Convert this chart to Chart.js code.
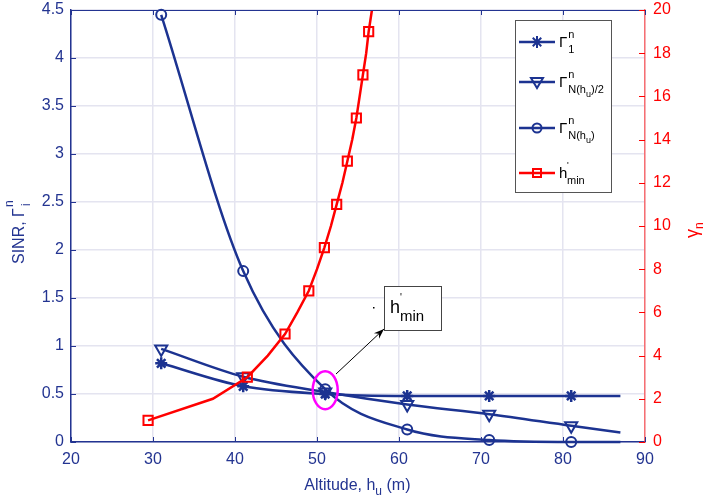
<!DOCTYPE html>
<html>
<head>
<meta charset="utf-8">
<script src="https://cdn.jsdelivr.net/npm/chart.js@4"></script>
<style>
  body { margin: 0; background: #fff; }
  canvas { display: block; }
</style>
</head>
<body>
<canvas id="sinrChart" width="705" height="503"></canvas>
<script>
// altitude (m) where the blue curves are sampled; last one only ends the line
var altitude = [31, 41, 51, 61, 71, 81, 87];
var gamma1 = [0.82, 0.58, 0.50, 0.48, 0.48, 0.48, 0.48];
var gammaHalf = [0.97, 0.68, 0.52, 0.39, 0.29, 0.17, 0.10];
var gammaFull = [4.45, 1.78, 0.55, 0.13, 0.02, 0.00, 0.00];

// h'_min curve, right axis
var hminAlt = [29.4, 37.3, 41.5, 44.0, 46.1, 47.6, 49.0, 50.0, 50.9, 51.7,
               52.4, 53.1, 53.7, 54.3, 54.8, 55.2, 55.6, 56.0, 56.3, 56.7];
var hminGamma = [1, 2, 3, 4, 5, 6, 7, 8, 9, 10, 11, 12, 13, 14, 15, 16, 17, 18, 19, 20];
// markers only on odd gamma values
var hminMarks = [1, 0, 1, 0, 1, 0, 1, 0, 1, 0, 1, 0, 1, 0, 1, 0, 1, 0, 1, 0];

var xTicks = [20, 30, 40, 50, 60, 70, 80, 90];

var navy = '#233491';
var blue = '#1c3391';
var red = '#ff0000';
var font = '"Liberation Sans", Arial, sans-serif';

function pts(xs, ys) {
    return xs.map(function (x, i) { return { x: x, y: ys[i] }; });
}
function blueRadius(r) {
    return altitude.map(function (a, i) { return i < altitude.length - 1 ? r : 0; });
}

// draws text pieces left to right: [text, size, dy, noAdvance]
function rich(ctx, parts, x, y) {
    var cx = x;
    parts.forEach(function (p) {
        ctx.font = p[1] + 'px ' + font;
        ctx.fillText(p[0], cx, y + (p[2] || 0));
        if (!p[3]) cx += ctx.measureText(p[0]).width;
    });
    return cx - x;
}

function marker(ctx, style, x, y, color) {
    ctx.save();
    ctx.strokeStyle = color;
    ctx.lineWidth = 2;
    ctx.beginPath();
    if (style === 'star') {
        var r = 6;
        for (var k = 0; k < 4; k++) {
            var a = k * Math.PI / 4;
            ctx.moveTo(x - r * Math.cos(a), y - r * Math.sin(a));
            ctx.lineTo(x + r * Math.cos(a), y + r * Math.sin(a));
        }
    } else if (style === 'tri') {
        ctx.moveTo(x - 6, y - 4);
        ctx.lineTo(x + 6, y - 4);
        ctx.lineTo(x, y + 6);
        ctx.closePath();
    } else if (style === 'circle') {
        ctx.arc(x, y, 4.5, 0, Math.PI * 2);
    } else {
        ctx.rect(x - 4, y - 4, 8, 8);
    }
    ctx.stroke();
    ctx.restore();
}

function noPad(s) {
    s.paddingTop = 0;
    s.paddingBottom = 0;
}

var extras = {
    id: 'extras',
    afterDatasetsDraw: function (chart) {
        var ctx = chart.ctx;
        var ca = chart.chartArea;
        var sx = chart.scales.x, sy = chart.scales.y, sr = chart.scales.y1;
        ctx.save();

        // top border
        ctx.strokeStyle = navy;
        ctx.lineWidth = 1;
        ctx.beginPath();
        ctx.moveTo(ca.left, ca.top + 0.5);
        ctx.lineTo(ca.right, ca.top + 0.5);
        ctx.stroke();

        // inward ticks
        xTicks.forEach(function (v) {
            var px = Math.round(sx.getPixelForValue(v)) + 0.5;
            ctx.beginPath();
            ctx.moveTo(px, ca.bottom); ctx.lineTo(px, ca.bottom - 5);
            ctx.moveTo(px, ca.top); ctx.lineTo(px, ca.top + 5);
            ctx.stroke();
        });
        sy.ticks.forEach(function (t) {
            var py = Math.round(sy.getPixelForValue(t.value)) + 0.5;
            ctx.beginPath();
            ctx.moveTo(ca.left, py); ctx.lineTo(ca.left + 5, py);
            ctx.stroke();
        });
        ctx.strokeStyle = red;
        sr.ticks.forEach(function (t) {
            var py = Math.round(sr.getPixelForValue(t.value)) + 0.5;
            ctx.beginPath();
            ctx.moveTo(ca.right, py); ctx.lineTo(ca.right - 6, py);
            ctx.stroke();
        });

        // ellipse round the crossing
        ctx.strokeStyle = '#ff00ff';
        ctx.lineWidth = 2.5;
        ctx.beginPath();
        ctx.ellipse(sx.getPixelForValue(51), sy.getPixelForValue(0.54), 12.5, 19, 0, 0, Math.PI * 2);
        ctx.stroke();

        // arrow to the text box
        var x0 = 336, y0 = 374, x1 = 384, y1 = 329;
        ctx.strokeStyle = '#000';
        ctx.fillStyle = '#000';
        ctx.lineWidth = 1;
        ctx.beginPath();
        ctx.moveTo(x0, y0); ctx.lineTo(x1, y1);
        ctx.stroke();
        var ang = Math.atan2(y1 - y0, x1 - x0);
        ctx.beginPath();
        ctx.moveTo(x1, y1);
        ctx.lineTo(x1 - 11 * Math.cos(ang - 0.35), y1 - 11 * Math.sin(ang - 0.35));
        ctx.lineTo(x1 - 7 * Math.cos(ang), y1 - 7 * Math.sin(ang));
        ctx.lineTo(x1 - 11 * Math.cos(ang + 0.35), y1 - 11 * Math.sin(ang + 0.35));
        ctx.closePath();
        ctx.fill();

        // annotation box
        ctx.fillStyle = '#fff';
        ctx.fillRect(384, 286, 57, 44);
        ctx.strokeStyle = '#444';
        ctx.strokeRect(384.5, 286.5, 57, 44);
        ctx.fillStyle = '#000';
        ctx.fillRect(373, 307, 1.5, 1.5);
        ctx.textBaseline = 'alphabetic';
        ctx.textAlign = 'left';
        rich(ctx, [['h', 18, 0]], 390, 313);
        rich(ctx, [["'", 10, -12, true], ['min', 15, 8]], 400, 313);

        // legend
        ctx.fillStyle = '#fff';
        ctx.fillRect(515, 20, 96, 172);
        ctx.strokeStyle = '#555';
        ctx.strokeRect(515.5, 20.5, 96, 172);
        var rows = [
            { y: 42, c: blue, m: 'star', sub: [['1', 11, 0]] },
            { y: 82, c: blue, m: 'tri', sub: [['N(h', 11, 0], ['u', 9, 4], [')/2', 11, 0]] },
            { y: 128, c: blue, m: 'circle', sub: [['N(h', 11, 0], ['u', 9, 4], [')', 11, 0]] },
            { y: 173, c: red, m: 'rect' }
        ];
        rows.forEach(function (r) {
            ctx.strokeStyle = r.c;
            ctx.lineWidth = 2.5;
            ctx.beginPath();
            ctx.moveTo(519, r.y); ctx.lineTo(555, r.y);
            ctx.stroke();
            marker(ctx, r.m, 537, r.y, r.c);
            ctx.fillStyle = '#000';
            if (r.sub) {
                var w = rich(ctx, [['Γ', 15, 0]], 559, r.y + 5);
                rich(ctx, [['n', 11, -9]], 559 + w + 1, r.y + 5);
                rich(ctx, r.sub, 559 + w + 1, r.y + 11);
            } else {
                rich(ctx, [['h', 15, 0]], 559, r.y + 5);
                rich(ctx, [["'", 9, -10, true], ['min', 11, 6]], 567, r.y + 5);
            }
        });

        // axis titles
        ctx.fillStyle = navy;
        ctx.textAlign = 'left';
        ctx.font = '16px ' + font;
        var tw = ctx.measureText('Altitude, h').width + ctx.measureText(' (m)').width + 8;
        var bx = (ca.left + ca.right) / 2 - tw / 2;
        var w1 = rich(ctx, [['Altitude, h', 16, 0]], bx, 490);
        rich(ctx, [['u', 12, 5], [' (m)', 16, 0]], bx + w1, 490);

        ctx.save();
        ctx.translate(24, (ca.top + ca.bottom) / 2 + 38);
        ctx.rotate(-Math.PI / 2);
        var w2 = rich(ctx, [['SINR, Γ', 16, 0]], 0, 0);
        rich(ctx, [['n', 12, -11]], w2 + 1, 0);
        rich(ctx, [['i', 12, 6]], w2 + 2, 0);
        ctx.restore();

        ctx.save();
        ctx.fillStyle = red;
        ctx.translate(698, (ca.top + ca.bottom) / 2 + 12);
        ctx.rotate(-Math.PI / 2);
        var w3 = rich(ctx, [['γ', 18, 0]], 0, 0);
        rich(ctx, [['n', 12, 5]], w3, 0);
        ctx.restore();

        ctx.restore();
    }
};

var ctx = document.getElementById('sinrChart').getContext('2d');
var myChart = new Chart(ctx, {
    type: 'line',
    data: {
        datasets: [{
            label: "h'min",
            data: pts(hminAlt, hminGamma),
            yAxisID: 'y1',
            borderColor: red,
            borderWidth: 2.5,
            backgroundColor: 'rgba(0,0,0,0)',
            pointStyle: 'rect',
            pointRadius: hminMarks.map(function (m) { return m ? 6.5 : 0; }),
            pointBorderWidth: 2,
            tension: 0,
            order: 0
        }, {
            label: 'Gamma 1',
            data: pts(altitude, gamma1),
            yAxisID: 'y',
            borderColor: blue,
            borderWidth: 2.5,
            backgroundColor: 'rgba(0,0,0,0)',
            pointStyle: 'star',
            pointRadius: blueRadius(6),
            pointBorderWidth: 2.5,
            cubicInterpolationMode: 'monotone',
            clip: false,
            order: 1
        }, {
            label: 'Gamma N/2',
            data: pts(altitude, gammaHalf),
            yAxisID: 'y',
            borderColor: blue,
            borderWidth: 2.5,
            backgroundColor: 'rgba(0,0,0,0)',
            pointStyle: 'triangle',
            pointRotation: 180,
            pointRadius: blueRadius(7),
            pointBorderWidth: 2,
            cubicInterpolationMode: 'monotone',
            clip: false,
            order: 2
        }, {
            label: 'Gamma N',
            data: pts(altitude, gammaFull),
            yAxisID: 'y',
            borderColor: blue,
            borderWidth: 2.5,
            backgroundColor: 'rgba(0,0,0,0)',
            pointStyle: 'circle',
            pointRadius: blueRadius(5),
            pointBorderWidth: 2,
            cubicInterpolationMode: 'monotone',
            clip: false,
            order: 3
        }]
    },
    options: {
        responsive: false,
        animation: false,
        layout: { padding: { top: 10, left: 0, right: 0, bottom: 0 } },
        plugins: { legend: { display: false }, tooltip: { enabled: false } },
        scales: {
            x: {
                type: 'linear', min: 20, max: 90,
                afterBuildTicks: function (s) { s.ticks = xTicks.map(function (v) { return { value: v }; }); },
                ticks: { color: navy, font: { family: font, size: 16 }, padding: 8, maxRotation: 0 },
                grid: { color: '#e4e4f0', drawTicks: false, lineWidth: 1.5 },
                border: { color: navy, width: 1.5 },
                afterFit: function (s) { s.height = 61; s.paddingLeft = 0; s.paddingRight = 0; }
            },
            y: {
                position: 'left', min: 0, max: 4.5,
                ticks: { stepSize: 0.5, color: navy, font: { family: font, size: 16 }, padding: 7,
                         callback: function (v) { return String(v); } },
                grid: { color: '#e4e4f0', drawTicks: false, lineWidth: 1.5 },
                border: { color: navy, width: 1.5 },
                afterFit: function (s) { s.width = 71; noPad(s); }
            },
            y1: {
                position: 'right', min: 0, max: 20,
                ticks: { stepSize: 2, color: red, font: { family: font, size: 16 }, padding: 8 },
                grid: { display: false, drawTicks: false },
                border: { color: 'rgba(255,60,60,0.7)', width: 1.5 },
                afterFit: function (s) { s.width = 60; noPad(s); }
            }
        }
    },
    plugins: [extras]
});
</script>
</body>
</html>
